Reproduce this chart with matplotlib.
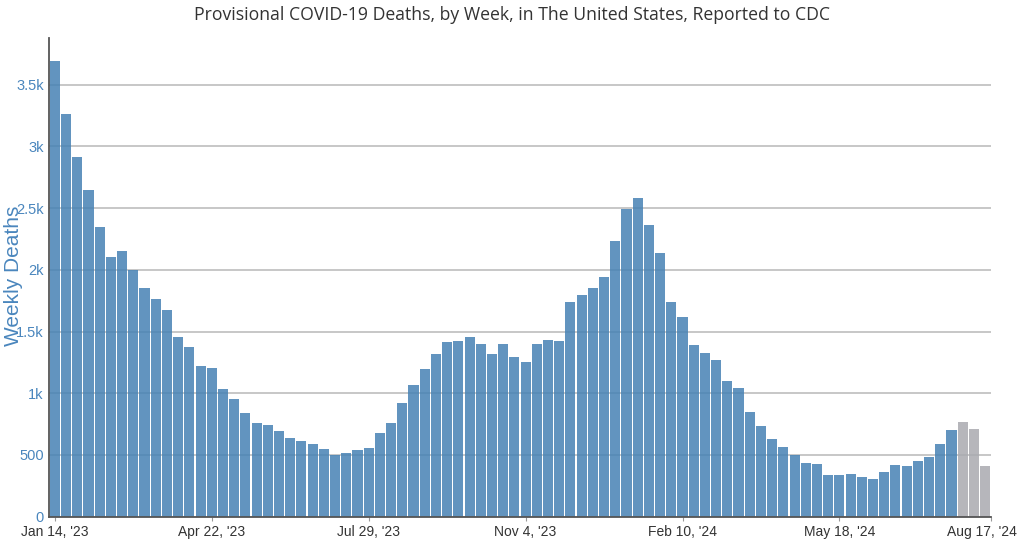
import matplotlib
matplotlib.use("Agg")
import matplotlib.pyplot as plt
from matplotlib.ticker import FuncFormatter
from matplotlib.transforms import ScaledTranslation

# weekly deaths, one bar per week starting Jan 14, 2023
deaths = [3692, 3260, 2917, 2644, 2350, 2104, 2155, 2001, 1850, 1764,
          1672, 1453, 1377, 1221, 1202, 1032, 951, 843, 759, 745,
          697, 638, 616, 589, 546, 500, 514, 543, 557, 676,
          757, 924, 1069, 1194, 1316, 1415, 1421, 1458, 1403, 1318,
          1397, 1296, 1251, 1397, 1434, 1426, 1737, 1796, 1850, 1940,
          2234, 2493, 2580, 2363, 2134, 1742, 1615, 1388, 1326, 1267,
          1102, 1040, 846, 737, 632, 567, 500, 432, 427, 335,
          338, 346, 324, 308, 362, 419, 411, 454, 481, 589,
          700, 767, 713, 408]
# last weeks are incomplete (grey)
n_incomplete = 3

tick_weeks = [0, 14, 28, 42, 56, 70, 83.5]
tick_labels = ["Jan 14, '23", "Apr 22, '23", "Jul 29, '23", "Nov 4, '23",
               "Feb 10, '24", "May 18, '24", "Aug 17, '24"]

blue = "#4682b4"
grey = "#a9aab0"
colors = [blue] * (len(deaths) - n_incomplete) + [grey] * n_incomplete


def kfmt(v, pos):
    if v >= 1000:
        s = f"{v / 1000:.1f}".rstrip("0").rstrip(".")
        return s + "k"
    return f"{int(v)}"


fig = plt.figure(figsize=(10.24, 5.39), dpi=100)
ax = fig.add_axes([0.0481, 0.0414, 0.9194, 0.888])

x = list(range(len(deaths)))
ax.bar(x, deaths, width=0.9, color=colors, alpha=0.85, zorder=2)

ax.set_xlim(-0.5, len(deaths) - 0.5)
ax.set_ylim(0, 3878)
ax.set_yticks([0, 500, 1000, 1500, 2000, 2500, 3000, 3500])
ax.yaxis.set_major_formatter(FuncFormatter(kfmt))
ax.grid(axis="y", color="#bdbdbd", linewidth=1.2, zorder=1)
ax.set_axisbelow(True)

ax.set_xticks(tick_weeks)
ax.set_xticklabels(tick_labels, fontsize=10, color="#333333",
                   family="Liberation Sans")
ax.tick_params(axis="x", length=3, color="#999999", pad=3)
ax.tick_params(axis="y", length=0, pad=4, labelsize=10.5, labelcolor="#4a86bd")
for lbl in ax.get_yticklabels():
    lbl.set_family("Liberation Sans")

# keep the last date label inside the picture
last = ax.get_xticklabels()[-1]
last.set_transform(last.get_transform() +
                   ScaledTranslation(-6 / 72, 0, fig.dpi_scale_trans))

for side in ["top", "right"]:
    ax.spines[side].set_visible(False)
ax.spines["left"].set_color("#555555")
ax.spines["left"].set_linewidth(1.3)
ax.spines["bottom"].set_color("#555555")
ax.spines["bottom"].set_linewidth(1.3)

fig.text(14 / 1024, 1 - 276 / 539, "Weekly Deaths", rotation=90,
         ha="center", va="center", fontsize=15, color="#4a86bd",
         family="Liberation Sans")
fig.text(0.5, 1 - 15 / 539,
         "Provisional COVID-19 Deaths, by Week, in The United States, Reported to CDC",
         ha="center", va="center", fontsize=12.7, color="#333333",
         family="Open Sans")

fig.savefig("out.png", dpi=100)
